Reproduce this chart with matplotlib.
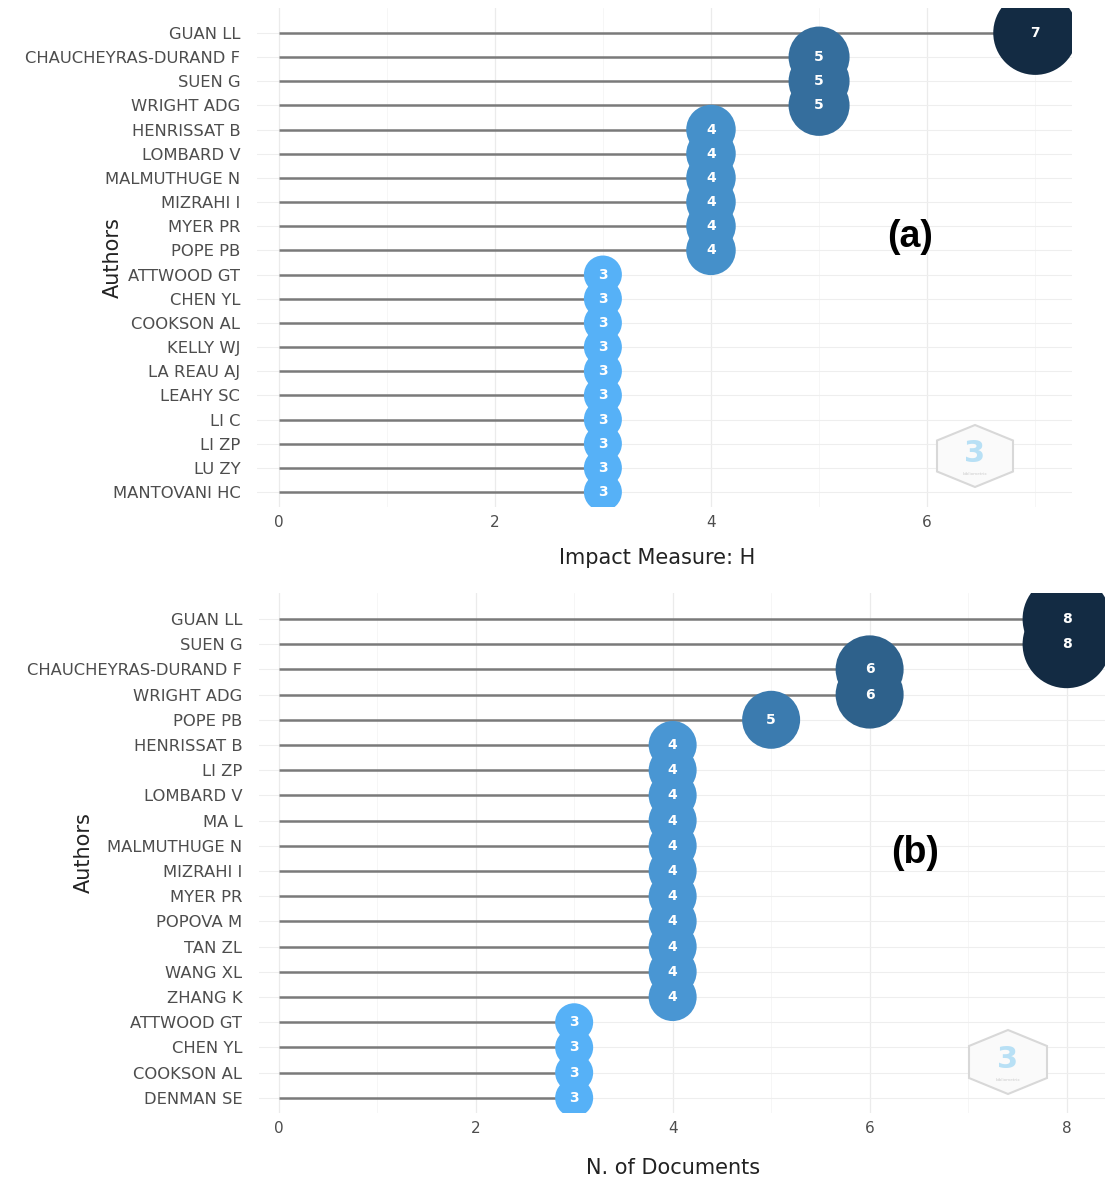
import matplotlib
matplotlib.use("Agg")
import matplotlib.pyplot as plt
import numpy as np
from matplotlib.patches import Polygon
from matplotlib.colors import to_rgb

plt.rcParams['font.family'] = ['DejaVu Sans']

# Panel (a): authors' H-index
authors_h = ["GUAN LL", "CHAUCHEYRAS-DURAND F", "SUEN G", "WRIGHT ADG",
             "HENRISSAT B", "LOMBARD V", "MALMUTHUGE N", "MIZRAHI I",
             "MYER PR", "POPE PB", "ATTWOOD GT", "CHEN YL", "COOKSON AL",
             "KELLY WJ", "LA REAU AJ", "LEAHY SC", "LI C", "LI ZP",
             "LU ZY", "MANTOVANI HC"]
h_index = [7, 5, 5, 5, 4, 4, 4, 4, 4, 4, 3, 3, 3, 3, 3, 3, 3, 3, 3, 3]

# Panel (b): number of documents per author
authors_n = ["GUAN LL", "SUEN G", "CHAUCHEYRAS-DURAND F", "WRIGHT ADG",
             "POPE PB", "HENRISSAT B", "LI ZP", "LOMBARD V", "MA L",
             "MALMUTHUGE N", "MIZRAHI I", "MYER PR", "POPOVA M", "TAN ZL",
             "WANG XL", "ZHANG K", "ATTWOOD GT", "CHEN YL", "COOKSON AL",
             "DENMAN SE"]
n_docs = [8, 8, 6, 6, 5, 4, 4, 4, 4, 4, 4, 4, 4, 4, 4, 4, 3, 3, 3, 3]

xticks_a = [0, 2, 4, 6]
xticks_b = [0, 2, 4, 6, 8]

LOW = np.array(to_rgb("#56B1F7"))
HIGH = np.array(to_rgb("#132B43"))
DPI = 100
W, H = 1105, 1180


def lollipop(ax, names, vals, xlim, xticks, xlabel, rmin, rmax, tag, tagpos,
             xlab_pos, ylab_pos):
    n = len(names)
    y = np.arange(n, 0, -1)
    vals = np.asarray(vals, dtype=float)
    vmin, vmax = vals.min(), vals.max()
    t = (vals - vmin) / (vmax - vmin)
    cols = [tuple(LOW + (HIGH - LOW) * ti) for ti in t]
    r_px = rmin + (rmax - rmin) * t
    sizes = (2 * r_px * 72 / DPI) ** 2

    ax.set_xlim(*xlim)
    ax.set_ylim(0.4, n + 1.03)
    # background grid
    for xv in np.arange(0, xlim[1] + 0.01, 1):
        major = int(round(xv)) % 2 == 0
        ax.axvline(xv, color="#ebebeb" if major else "#f5f5f5",
                   lw=0.9 if major else 0.6, zorder=0)
    for yv in y:
        ax.axhline(yv, color="#eeeeee", lw=0.8, zorder=0)

    ax.hlines(y, 0, vals, color="#7a7a7a", lw=1.8, zorder=1)
    ax.scatter(vals, y, s=sizes, c=cols, edgecolors="none", zorder=2)
    for xi, yi, v in zip(vals, y, vals):
        ax.text(xi, yi, f"{int(v)}", color="white", fontsize=10,
                fontweight="bold", ha="center", va="center", zorder=3)

    ax.set_yticks(y)
    ax.set_yticklabels(names, fontsize=11.8, color="#4d4d4d")
    ax.set_xticks(xticks)
    ax.set_xticklabels([str(v) for v in xticks], fontsize=11, color="#4d4d4d")
    ax.tick_params(length=0, axis="y", pad=12)
    ax.tick_params(length=0, axis="x", pad=6)
    for s in ax.spines.values():
        s.set_visible(False)
    ax.set_xlabel(xlabel, fontsize=15, color="#222222")
    ax.xaxis.set_label_coords(*xlab_pos)
    ax.set_ylabel("Authors", fontsize=15, color="#222222")
    ax.yaxis.set_label_coords(*ylab_pos)
    ax.text(tagpos[0], tagpos[1], tag, transform=ax.transAxes,
            fontsize=27, fontweight="bold", family="Liberation Sans",
            ha="center", va="center", color="black", zorder=4)


def watermark(fig, cx, cy, hw, hh):
    pts = [(cx, cy - hh), (cx + hw, cy - hh / 2), (cx + hw, cy + hh / 2),
           (cx, cy + hh), (cx - hw, cy + hh / 2), (cx - hw, cy - hh / 2)]
    pts = [(px / W, 1 - py / H) for px, py in pts]
    fig.patches.append(Polygon(pts, closed=True, fill=True, fc="#fafafa",
                               ec="#d8d8d8", lw=1.5,
                               transform=fig.transFigure, zorder=5))
    fig.text(cx / W, 1 - (cy - 3) / H, "3", fontsize=22, fontweight="bold",
             color="#b8e0f5", ha="center", va="center", zorder=6)
    fig.text(cx / W, 1 - (cy + 18) / H, "bibliometrix", fontsize=3,
             color="#cccccc", ha="center", va="center", zorder=6)


fig = plt.figure(figsize=(W / DPI, H / DPI), dpi=DPI)

a_l, a_r, a_t, a_b = 257, 1072, 8, 506.5
ax1 = fig.add_axes([a_l / W, 1 - a_b / H, (a_r - a_l) / W, (a_b - a_t) / H])
lollipop(ax1, authors_h, h_index, (-0.2, 7.34), xticks_a,
         "Impact Measure: H", 19, 42, "(a)", (0.801, 0.541),
         (0.491, -0.083), (-0.165, 0.4985))

b_l, b_r, b_t, b_b = 259, 1105, 593, 1113
ax2 = fig.add_axes([b_l / W, 1 - b_b / H, (b_r - b_l) / W, (b_b - b_t) / H])
lollipop(ax2, authors_n, n_docs, (-0.2, 8.39), xticks_b,
         "N. of Documents", 19, 44, "(b)", (0.775, 0.50),
         (0.489, -0.0865), (-0.195, 0.50))

watermark(fig, 975, 456, 38, 31)
watermark(fig, 1008, 1062, 39, 32)

fig.savefig("out.png", dpi=DPI, facecolor="white")
